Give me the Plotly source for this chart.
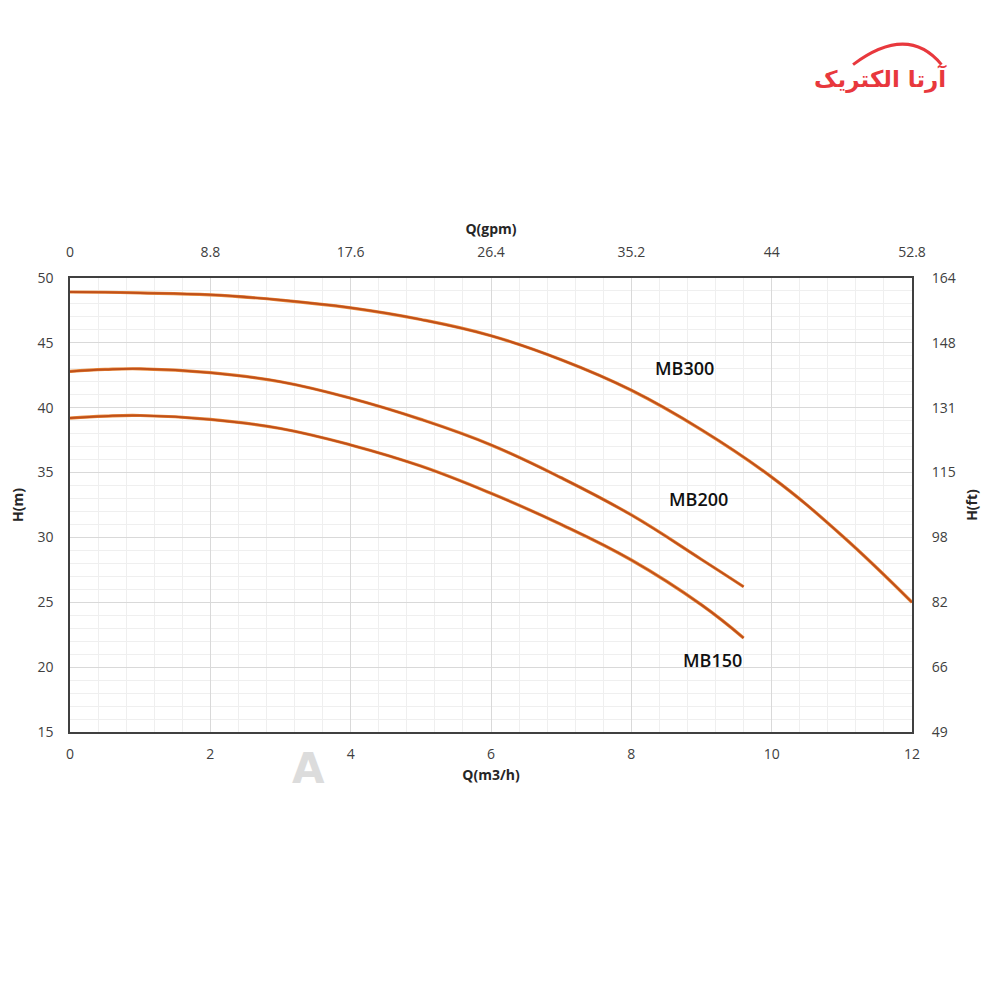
import plotly.graph_objects as go

# Data (Q in m3/h, H in m)
q_mb300 = [0, 0.5, 1, 2, 3, 4, 5, 6, 7, 8, 9, 10, 11, 12]
h_mb300 = [48.92, 48.9, 48.85, 48.7, 48.3, 47.7, 46.8, 45.55, 43.7, 41.35, 38.3, 34.65, 30.15, 25.0]

q_mb200 = [0, 0.5, 1, 2, 3, 4, 5, 6, 7, 8, 9, 9.6]
h_mb200 = [42.8, 42.95, 43.0, 42.7, 42.0, 40.73, 39.1, 37.13, 34.6, 31.73, 28.3, 26.2]

q_mb150 = [0, 0.5, 1, 2, 3, 4, 5, 6, 7, 8, 9, 9.6]
h_mb150 = [39.2, 39.35, 39.4, 39.1, 38.4, 37.13, 35.5, 33.4, 31.0, 28.26, 24.8, 22.25]

series_names = ["MB300", "MB200", "MB150"]
label_q = [8.76, 8.96, 9.15]
label_h = [43.06, 32.96, 20.55]

x_ticks = [0, 2, 4, 6, 8, 10, 12]
gpm_labels = ["0", "8.8", "17.6", "26.4", "35.2", "44", "52.8"]
y_ticks = [15, 20, 25, 30, 35, 40, 45, 50]
ft_labels = ["49", "66", "82", "98", "115", "131", "148", "164"]

LINE = "#c0501a"
FONT = "Open Sans"
TICKC = "#404040"
TITLEC = "#262626"

fig = go.Figure()
for q, h, n in zip([q_mb300, q_mb200, q_mb150], [h_mb300, h_mb200, h_mb150], series_names):
    fig.add_trace(go.Scatter(x=q, y=h, mode="lines", name=n,
                             line=dict(color="#e8893a", width=3.2, shape="spline", smoothing=1.2),
                             hoverinfo="skip", showlegend=False))
    fig.add_trace(go.Scatter(x=q, y=h, mode="lines", name=n,
                             line=dict(color=LINE, width=2, shape="spline", smoothing=1.2),
                             showlegend=False))

# invisible trace for secondary axes
fig.add_trace(go.Scatter(x=[0, 12], y=[15, 50], xaxis="x2", yaxis="y2",
                         mode="markers", marker=dict(opacity=0), showlegend=False, hoverinfo="skip"))

for n, qx, hy in zip(series_names, label_q, label_h):
    fig.add_annotation(x=qx, y=hy, text=n, showarrow=False,
                       font=dict(family=FONT, size=18, color="#111111", weight=600))

tick_font = dict(family=FONT, size=14, color=TICKC)
title_font = dict(family=FONT, size=14, color=TITLEC)

fig.update_layout(
    width=1000, height=1000,
    paper_bgcolor="white", plot_bgcolor="white",
    margin=dict(l=62, r=96, t=270, b=276),
    xaxis=dict(range=[0, 12], tickvals=x_ticks, ticks="outside", ticklen=8, tickcolor="rgba(0,0,0,0)",
               automargin=False,
               showgrid=True, gridcolor="#d9d9d9", gridwidth=1,
               minor=dict(dtick=0.4, showgrid=True, gridcolor="#efefef", gridwidth=1),
               showline=True, linecolor="#404040", linewidth=1.5, mirror=True,
               zeroline=False, tickfont=tick_font,
               title=dict(text="<b>Q(m3/h)</b>", font=title_font, standoff=9)),
    yaxis=dict(range=[15, 50], tickvals=y_ticks, ticks="outside", ticklen=12, tickcolor="rgba(0,0,0,0)",
               automargin=False,
               showgrid=True, gridcolor="#d9d9d9", gridwidth=1,
               minor=dict(dtick=1, showgrid=True, gridcolor="#efefef", gridwidth=1),
               showline=True, linecolor="#404040", linewidth=1.5, mirror=True,
               zeroline=False, tickfont=tick_font,
               title=dict(text="<b>H(m)</b>", font=title_font, standoff=12)),
    xaxis2=dict(overlaying="x", side="top", range=[0, 12], tickvals=x_ticks, ticktext=gpm_labels,
                automargin=False,
                showgrid=False, zeroline=False, ticks="outside", ticklen=14, tickcolor="rgba(0,0,0,0)",
                tickfont=tick_font,
                title=dict(text="<b>Q(gpm)</b>", font=title_font, standoff=4)),
    yaxis2=dict(overlaying="y", side="right", range=[15, 50], tickvals=y_ticks, ticktext=ft_labels,
                automargin=False,
                showgrid=False, zeroline=False, ticks="outside", ticklen=16, tickcolor="rgba(0,0,0,0)",
                tickfont=tick_font,
                title=dict(text="<b>H(ft)</b>", font=title_font, standoff=12)),
)

# logo text (top right)
fig.add_annotation(xref="paper", yref="paper", x=0.962, y=1.44, xanchor="center", yanchor="middle",
                   text="<b>آرتا الکتریک</b>", showarrow=False,
                   font=dict(family="DejaVu Sans", size=23, color="#e8383d"))
fig.add_shape(type="path", xref="paper", yref="paper",
              path="M 0.93,1.47 Q 0.995,1.56 1.035,1.47",
              line=dict(color="#e8383d", width=3))

# faint watermark
fig.add_annotation(xref="paper", yref="paper", x=0.261, y=-0.139, text="<b>A</b>", showarrow=False,
                   font=dict(family="DejaVu Sans", size=42, color="#dcdcdc"))

fig.write_html("out.html")
